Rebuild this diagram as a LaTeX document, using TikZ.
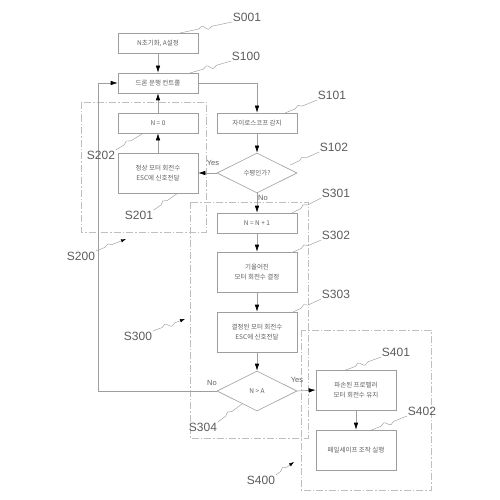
\documentclass[tikz,border=0pt]{standalone}
\usepackage{fontspec}
\setmainfont{Liberation Sans}
\newfontfamily\krfont{Noto Sans CJK KR}
\usetikzlibrary{arrows.meta,shapes.geometric,decorations.pathmorphing}
\definecolor{ln}{gray}{0.62}
\definecolor{grpc}{gray}{0.75}
\definecolor{tx}{gray}{0.38}
\definecolor{lt}{gray}{0.36}
\begin{document}
\begin{tikzpicture}[x=1pt,y=-1pt,
  box/.style={draw=ln, line width=0.6pt, minimum width=80pt, minimum height=20pt,
    inner sep=0pt, align=center, text=tx, font=\krfont\fontsize{6.5}{9.5}\selectfont},
  tall/.style={box, minimum height=40pt},
  dia/.style={diamond, draw=ln, line width=0.6pt, minimum width=80pt, minimum height=40pt,
    inner sep=0pt, text=tx, font=\krfont\fontsize{6.5}{9.5}\selectfont},
  flow/.style={draw=ln, line width=0.6pt, -{Latex[black,length=7pt,width=4.5pt]}},
  lab/.style={inner sep=0.5pt, text=lt, font=\fontsize{12}{14}\selectfont},
  yn/.style={inner sep=0.5pt, text=tx, font=\fontsize{7.5}{9}\selectfont},
  lead/.style={draw=ln, line width=0.45pt, decorate,
    decoration={snake, amplitude=2.2pt, segment length=12pt, pre length=#1, post length=#1}},
  leadarrow/.style={lead=#1, -{Latex[black,length=5pt,width=3.5pt]}},
  grp/.style={draw=grpc, line width=0.7pt, dash pattern=on 7pt off 2pt on 1.5pt off 2pt}
]
\useasboundingbox[fill=white] (0,0) rectangle (500,500);

% group frames
\draw[grp] (81,102) rectangle (206,232);
\draw[grp] (190,202) rectangle (308,438);
\draw[grp] (301,330) rectangle (431,490);

% boxes
\node[box]  (b001) at (158,43)  {N초기화, A설정};
\node[box]  (b100) at (158,83)  {드론 운행 컨트롤};
\node[box]  (b101) at (257,123) {자이로스코프 감지};
\node[dia]  (d102) at (257,173) {수평인가?};
\node[box]  (b202) at (158,123) {N = 0};
\node[tall] (b201) at (158,173) {정상 모터 회전수\\ESC에 신호전달};
\node[box]  (b301) at (257,223) {N = N + 1};
\node[tall] (b302) at (257,272) {기울어진\\모터 회전수 결정};
\node[tall] (b303) at (257,332) {결정된 모터 회전수\\ESC에 신호전달};
\node[dia]  (d304) at (257,391) {N > A};
\node[tall] (b401) at (356,390) {파손된 프로펠러\\모터 회전수 유지};
\node[tall] (b402) at (356,450) {페일세이프 조작 실행};

% flow connectors
\coordinate (lc) at (98,391);
\draw[flow] (b001) -- (b100);
\draw[flow] (b100.east) -| (b101.north);
\draw[flow] (b101) -- (d102);
\draw[flow] (d102.west) -- (b201.east);
\draw[flow] (b201) -- (b202);
\draw[flow] (b202) -- (b100);
\draw[flow] (d102.south) -- (b301.north);
\draw[flow] (b301) -- (b302);
\draw[flow] (b302) -- (b303);
\draw[flow] (b303) -- (d304.north);
\draw[flow] (d304.east) -- (b401.west);
\draw[flow] (b401) -- (b402);
\draw[flow] (d304.west) -- (lc) |- (b100.west);

% yes / no
\node[yn] (y102) at (213,163) {Yes};
\node[yn] (n102) at (263,198) {No};
\node[yn] (n304) at (212,383) {No};
\node[yn] (y304) at (297,380) {Yes};

% step labels
\node[lab] (l001) at (247,17)  {S001};
\node[lab] (l100) at (246,56)  {S100};
\node[lab] (l101) at (332,95)  {S101};
\node[lab] (l102) at (334,147) {S102};
\node[lab] (l301) at (336,193) {S301};
\node[lab] (l302) at (336,235) {S302};
\node[lab] (l303) at (336,294) {S303};
\node[lab] (l202) at (101,155) {S202};
\node[lab] (l201) at (139,215) {S201};
\node[lab] (l200) at (81,256)  {S200};
\node[lab] (l300) at (138,336) {S300};
\node[lab] (l304) at (203,427) {S304};
\node[lab] (l401) at (396,352) {S401};
\node[lab] (l402) at (422,411) {S402};
\node[lab] (l400) at (261,480) {S400};

% leader targets
\coordinate (t001) at (180,33);
\coordinate (t100) at (190,73);
\coordinate (t101) at (285,113);
\coordinate (t102) at (290,165);
\coordinate (t301) at (292,213);
\coordinate (t302) at (293,252);
\coordinate (t303) at (293,312);
\coordinate (t202) at (142,134);
\coordinate (t201) at (178,193);
\coordinate (t200) at (126,239);
\coordinate (t300) at (185,319);
\coordinate (t304) at (242,404);
\coordinate (t401) at (343,371);
\coordinate (t402) at (369,431);
\coordinate (t400) at (294,462);

% leaders
\draw[lead=19pt] (t001) -- (l001.south west);
\draw[lead=14pt] (t100) -- (l100.south west);
\draw[lead=11pt] (t101) -- (l101.south west);
\draw[lead=10pt] (t102) -- (l102.south west);
\draw[lead=10pt] (t301) -- (l301.south west);
\draw[lead=9pt]  (t302) -- (l302.south west);
\draw[lead=9pt]  (t303) -- (l303.south west);
\draw[lead=13pt] (t401) -- (l401.south west);
\draw[lead=13pt] (t402) -- (l402.south west);
\draw[lead=10pt] (l202.north east) -- (t202);
\draw[lead=9pt]  (l201.north east) -- (t201);
\draw[lead=10pt] (l304.north east) -- (t304);
\draw[leadarrow=10pt] (l200.north east) -- (t200);
\draw[leadarrow=10pt] (l300.north east) -- (t300);
\draw[leadarrow=6pt]  (l400.north east) -- (t400);
\end{tikzpicture}
\end{document}
